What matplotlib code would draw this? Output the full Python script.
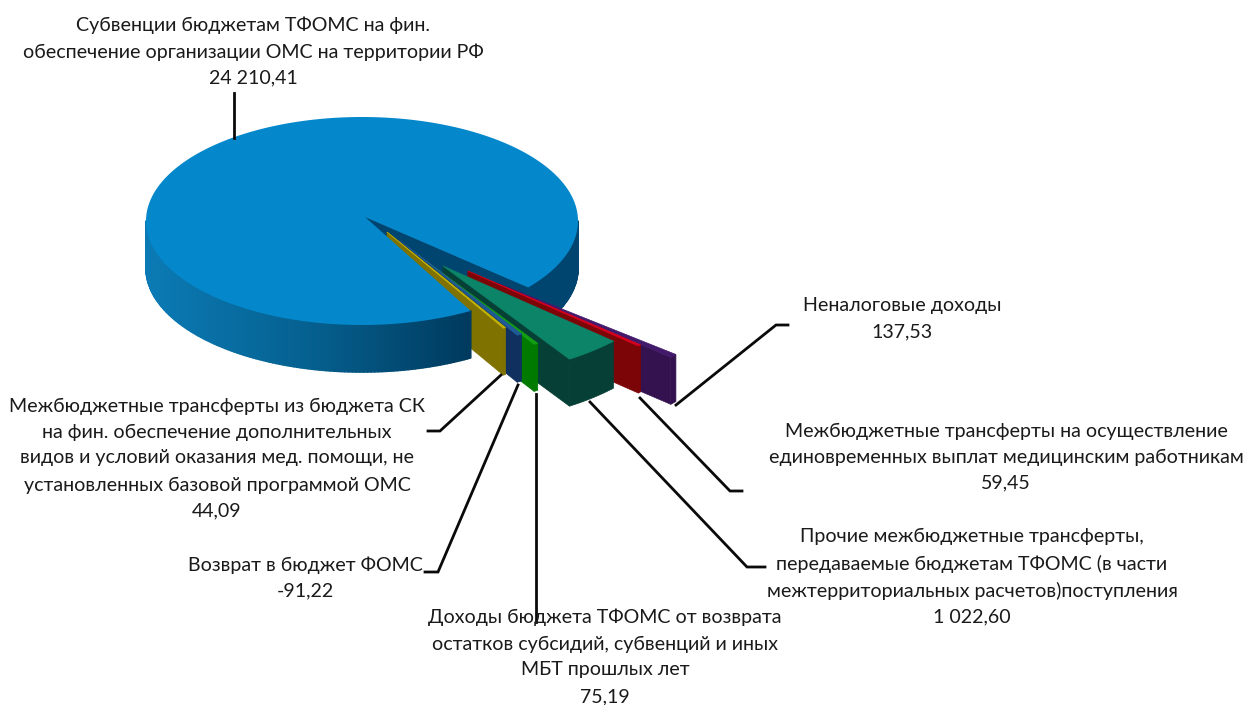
import numpy as np
import matplotlib
matplotlib.use('Agg')
import matplotlib.pyplot as plt
from matplotlib.collections import PolyCollection
from matplotlib.colors import to_rgb

plt.rcParams['font.family'] = ['Lato', 'DejaVu Sans']

# main slice first, the others in the order they follow round the pie
main_value = 24210.41
names = ['Неналоговые доходы', 'МБТ единовременные', 'Прочие МБТ', 'Доходы от возврата', 'Возврат', 'МБТ из бюджета СК']
values = [137.53, 59.45, 1022.60, 75.19, -91.22, 44.09]

top_colors = ['#43196b', '#d8001c', '#0b8468', '#12a012', '#1f5a96', '#c4b400']
wall_colors = ['#33124f', '#7c0508', '#053f35', '#007a00', '#10305f', '#7f7200']
# where each wedge tip sits, as a share of the pie radius
tips = [(0.63, 0.60), (0.49, 0.48), (0.375, 0.433), (0.228, 0.28), (0.17, 0.18), (0.116, 0.106)]

cx, cy = 362, 221
rx, ry = 216, 104
depth = 47
start = 39.7
slice_r = 1.07


def proj(x, y, dz=0):
    return cx + rx * np.asarray(x), cy + ry * np.asarray(y) + dz


def arc(a0, a1, r=1.0, ox=0.0, oy=0.0, dz=0):
    t = np.radians(np.linspace(a0, a1, max(2, int(abs(a1 - a0)) + 2)))
    x, y = proj(ox + r * np.cos(t), oy + r * np.sin(t), dz)
    return np.column_stack([x, y])


def mix(c1, c2, k):
    c1, c2 = np.array(to_rgb(c1)), np.array(to_rgb(c2))
    return tuple(c1 + (c2 - c1) * k)


def rim_color(x):
    # shading of the blue side, lighter at the far left
    k = np.clip((x - 150) / 320, 0, 1)
    if k < 0.5:
        return mix('#0b7ab4', '#05608f', k * 2)
    return mix('#05608f', '#003a5e', (k - 0.5) * 2)


def draw_rim(ax, a0, a1, zorder, color_fn=rim_color):
    top = arc(a0, a1)
    polys = []
    cols = []
    for i in range(len(top) - 1):
        p = [top[i], top[i + 1], top[i + 1] + [0, depth], top[i] + [0, depth]]
        polys.append(p)
        cols.append(color_fn((top[i][0] + top[i + 1][0]) / 2))
    ax.add_collection(PolyCollection(polys, facecolors=cols, edgecolors=cols, linewidths=1.2, zorder=zorder))


fig = plt.figure(figsize=(12.51, 7.05), dpi=100)
ax = fig.add_axes([0, 0, 1, 1])
ax.set_xlim(0, 1251)
ax.set_ylim(705, 0)
ax.axis('off')

total = main_value + sum(abs(v) for v in values)
spans = [abs(v) / total * 360 for v in values]
end = start + sum(spans)

# inner cut wall of the big slice, seen through the gap
apex = [cx + 3, cy - 4]
p_in = arc(start, start)[0]
ax.fill([apex[0], p_in[0], p_in[0], apex[0]], [apex[1], p_in[1], p_in[1] + depth, apex[1] + depth],
        color='#00456f', lw=0.8, ec='#00456f', zorder=1)
draw_rim(ax, 0, start, 2, lambda x: '#00456f')

# exploded slices, far side first
a = start
for i in range(len(values)):
    a0, a1 = a, a + spans[i]
    a = a1
    ox, oy = tips[i]
    tx, ty = proj(ox, oy)
    outer = arc(a0, a1, slice_r, ox, oy)
    z = 3 + i * 0.1
    # side wall on the near edge
    e = outer[-1]
    ax.fill([tx, e[0], e[0], tx], [ty, e[1], e[1] + depth, ty + depth],
            color=wall_colors[i], lw=0.5, ec=wall_colors[i], zorder=z)
    # outer rim
    low = outer + [0, depth]
    rim = np.vstack([outer, low[::-1]])
    ax.fill(rim[:, 0], rim[:, 1], color=wall_colors[i], lw=0.5, ec=wall_colors[i], zorder=z)
    # top
    poly = np.vstack([[tx, ty], outer])
    ax.fill(poly[:, 0], poly[:, 1], color=top_colors[i], lw=0.5, ec=top_colors[i], zorder=z + 0.05)

# big slice on top of the hidden parts of the walls
draw_rim(ax, end, 180, 4)
top_face = np.vstack([apex, arc(end, 360 + start)])
ax.fill(top_face[:, 0], top_face[:, 1], color='#0488cb', lw=0, zorder=5)

# leader lines
leaders = [
    ([234, 234], [93, 138]),
    ([676, 776, 788], [405, 325, 325]),
    ([640, 730, 742], [398, 491, 491]),
    ([590, 747, 765], [402, 567, 567]),
    ([536, 536], [394, 622]),
    ([518, 438, 425], [385, 572, 572]),
    ([501, 440, 428], [375, 431, 431]),
]
for lx, ly in leaders:
    ax.plot(lx, ly, color='#0a0a0a', lw=2.0, zorder=6, solid_joinstyle='miter')

labels = [
    (253, ['Субвенции бюджетам ТФОМС на фин.', 'обеспечение организации ОМС на территории РФ', '24 210,41'], [25, 52, 78]),
    (902, ['Неналоговые доходы', '137,53'], [306, 332]),
    (1006, ['Межбюджетные трансферты на осуществление', 'единовременных выплат медицинским работникам', '59,45'], [431, 457, 483]),
    (972, ['Прочие межбюджетные трансферты,', 'передаваемые бюджетам ТФОМС (в части', 'межтерриториальных расчетов)поступления', '1 022,60'], [536, 564, 591, 617]),
    (605, ['Доходы бюджета ТФОМС от возврата', 'остатков субсидий, субвенций и иных', 'МБТ прошлых лет', '75,19'], [617, 644, 670, 697]),
    (305, ['Возврат в бюджет ФОМС', '-91,22'], [565, 591]),
    (217, ['Межбюджетные трансферты из бюджета СК', 'на фин. обеспечение дополнительных', 'видов и условий оказания мед. помощи, не', 'установленных базовой программой ОМС', '44,09'], [406, 432, 458, 485, 511]),
]
for x, lines, ys in labels:
    for s, y in zip(lines, ys):
        ax.text(x, y, s, ha='center', va='center', fontsize=14.1, color='#1a1a1a', zorder=7)

fig.savefig('out.png', dpi=100)
